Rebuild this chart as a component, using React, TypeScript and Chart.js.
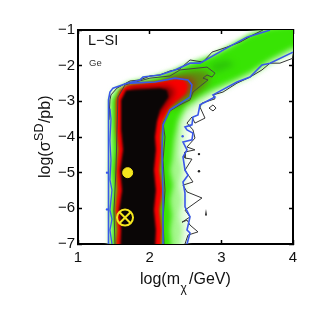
import React, { useEffect, useRef } from "react";
import { Chart, registerables } from "chart.js";

type P = [number, number];

const xTicks = [1, 2, 3, 4];
const yTicks = [-1, -2, -3, -4, -5, -6, -7];

const paleRegion: P[] = [[1.419,-7.2],[1.419,-2.96],[1.474,-2.68],[1.656,-2.49],[1.935,-2.35],[2.283,-2.15],[2.563,-1.87],[2.842,-1.7],[3.121,-1.39],[3.4,-1.11],[3.609,-0.94],[4.1,-0.86],[4.1,-1.66],[3.985,-1.69],[3.679,-2.0],[3.4,-2.38],[3.218,-2.52],[2.884,-2.88],[2.702,-3.17],[2.604,-3.47],[2.535,-3.86],[2.521,-4.36],[2.507,-4.93],[2.535,-5.49],[2.521,-6.05],[2.535,-6.61],[2.521,-7.2]];
const midRegion: P[] = [[1.446,-7.2],[1.446,-2.96],[1.53,-2.68],[1.725,-2.46],[2.004,-2.35],[2.311,-2.18],[2.563,-1.93],[2.87,-1.73],[3.148,-1.42],[3.4,-1.14],[3.679,-0.97],[4.1,-0.86],[4.1,-1.58],[3.985,-1.6],[3.679,-1.93],[3.4,-2.3],[3.19,-2.48],[2.87,-2.79],[2.674,-3.02],[2.507,-3.3],[2.437,-3.6],[2.423,-4.08],[2.409,-4.5],[2.451,-4.93],[2.409,-5.35],[2.451,-5.77],[2.409,-6.2],[2.451,-6.61],[2.409,-7.2]];
const greenRegion: P[] = [[1.46,-7.2],[1.488,-6.61],[1.46,-6.05],[1.488,-5.49],[1.46,-4.93],[1.488,-4.36],[1.474,-3.52],[1.474,-2.96],[1.558,-2.68],[1.725,-2.49],[2.004,-2.38],[2.311,-2.2],[2.563,-1.96],[2.87,-1.74],[3.148,-1.45],[3.4,-1.15],[3.679,-0.95],[4.1,-0.86],[4.1,-1.47],[3.985,-1.5],[3.679,-1.82],[3.4,-2.18],[3.19,-2.38],[2.87,-2.66],[2.674,-2.88],[2.493,-3.14],[2.395,-3.52],[2.339,-4.08],[2.311,-4.65],[2.283,-4.93],[2.325,-5.35],[2.283,-5.77],[2.311,-6.2],[2.283,-6.61],[2.311,-7.2]];
const oliveRegion: P[] = [[2.214,-2.32],[2.493,-2.18],[2.674,-2.12],[2.842,-2.18],[2.8,-2.54],[2.604,-2.85],[2.38,-3.16],[2.214,-3.1]];
const bandShadeRegion: P[] = [[2.842,-1.95],[3.079,-1.84],[3.19,-1.98],[2.912,-2.2]];
const brownRegion: P[] = [[2.3,-2.36],[2.59,-2.32],[2.66,-2.56],[2.52,-2.86],[2.3,-3.1]];
const redRegion: P[] = [[1.516,-7.2],[1.544,-6.61],[1.516,-6.05],[1.544,-5.49],[1.53,-4.93],[1.558,-4.36],[1.53,-3.8],[1.53,-2.96],[1.586,-2.68],[1.684,-2.54],[2.144,-2.43],[2.38,-2.36],[2.493,-2.4],[2.535,-2.56],[2.507,-2.78],[2.38,-3.0],[2.283,-3.2],[2.186,-3.58],[2.158,-4.0],[2.172,-4.36],[2.144,-4.93],[2.186,-5.49],[2.144,-6.05],[2.172,-6.61],[2.158,-7.2]];
const darkRedRegion: P[] = [[1.7,-2.62],[2.256,-2.58],[2.353,-2.72],[2.256,-3.05],[2.13,-3.4],[1.9,-3.4]];
const blackRegion: P[] = [[1.586,-7.2],[1.6,-6.61],[1.572,-6.05],[1.614,-5.49],[1.586,-4.93],[1.628,-4.36],[1.6,-3.8],[1.6,-2.96],[1.67,-2.69],[2.144,-2.63],[2.24,-2.68],[2.264,-2.88],[2.144,-3.24],[2.102,-3.58],[2.074,-4.0],[2.088,-4.36],[2.06,-4.93],[2.088,-5.49],[2.06,-6.05],[2.088,-6.61],[2.074,-7.2]];

const blueOuterLeft: P[] = [[1.419,-7],[1.432,-6.6],[1.419,-6.2],[1.432,-5.5],[1.419,-4.9],[1.432,-4.2],[1.419,-3.7],[1.432,-3.4],[1.419,-2.96],[1.446,-2.74],[1.488,-2.63],[1.684,-2.49],[1.865,-2.4],[1.907,-2.32],[2.144,-2.26],[2.353,-2.12],[2.563,-1.93],[2.702,-1.93],[3.079,-1.5],[3.358,-1.2],[3.637,-1.03],[3.679,-1]];
const blueInnerLeft: P[] = [[1.474,-7],[1.446,-6.61],[1.474,-6.3],[1.446,-6.05],[1.474,-5.49],[1.446,-5.2],[1.46,-4.65],[1.446,-4.1],[1.46,-3.5],[1.446,-3.2]];
const blueRed: P[] = [[2.186,-7],[2.186,-5.77],[2.172,-4.36],[2.186,-3.66],[2.283,-3.24],[2.563,-2.88],[2.59,-2.54],[2.535,-2.4],[2.353,-2.35],[2.074,-2.46],[1.725,-2.49]];
const blueRight: P[] = [[4,-1.62],[3.679,-1.93],[3.567,-1.98],[3.4,-2.32],[3.218,-2.46],[2.884,-2.82],[2.912,-2.88],[2.702,-3.1],[2.674,-3.38],[2.604,-3.44],[2.59,-3.66],[2.493,-3.72],[2.521,-3.8],[2.604,-3.89],[2.59,-4.08],[2.465,-4.14],[2.521,-4.36],[2.465,-4.56],[2.493,-4.93],[2.535,-5.07],[2.465,-5.26],[2.493,-5.57],[2.493,-5.96],[2.563,-6.24],[2.521,-6.61],[2.563,-6.69],[2.521,-7]];
const blueDots: P[] = [[1.405,-5.0],[1.405,-6.03],[2.46,-3.98],[2.56,-3.68]];

const blackUpper: P[] = [[1.432,-3.52],[1.446,-2.96],[1.46,-2.82],[1.544,-2.63],[1.725,-2.43],[1.865,-2.4],[2.004,-2.29],[2.144,-2.26],[2.283,-2.15],[2.423,-2.09],[2.563,-1.84],[2.744,-1.9],[2.87,-1.62],[3.079,-1.48],[3.26,-1.34],[3.441,-1.14],[3.581,-1]];
const blackLower: P[] = [[4,-1.79],[3.818,-1.93],[3.679,-1.93],[3.567,-2.12],[3.4,-2.32],[3.218,-2.49],[3.023,-2.74],[2.884,-2.82],[2.912,-2.93],[2.73,-3.05],[2.702,-3.16],[2.772,-3.47],[2.632,-3.61],[2.59,-3.44],[2.521,-3.61],[2.604,-3.8],[2.632,-4.03],[2.521,-4.28],[2.632,-4.36],[2.493,-4.42],[2.493,-4.59],[2.59,-4.62],[2.493,-4.93],[2.604,-5.26],[2.465,-5.35],[2.521,-5.54],[2.73,-5.71],[2.493,-6.05],[2.563,-6.24],[2.451,-6.39],[2.521,-6.33],[2.563,-6.47],[2.674,-6.66],[2.535,-6.75],[2.493,-7]];
const blackKnee: P[] = [[1.516,-7],[1.502,-6.05],[1.53,-4.93],[1.544,-3.8],[1.558,-2.88],[1.656,-2.54],[2.004,-2.35],[2.283,-2.29],[2.423,-2.12],[2.66,-2.07],[2.8,-2.04],[2.912,-2.21],[2.87,-2.32],[2.8,-2.26],[2.744,-2.35],[2.814,-2.4],[2.604,-2.74],[2.563,-2.96],[2.423,-3.1],[2.283,-3.27],[2.186,-3.61],[2.214,-4.0],[2.186,-4.65],[2.214,-5.49],[2.186,-6.33],[2.2,-7]];
const blackDiamond: P[] = [[2.884,-3.1],[2.926,-3.19],[2.884,-3.27],[2.828,-3.19],[2.884,-3.1]];
const blackSpeck: P[] = [[2.786,-6.02],[2.8,-6.2],[2.772,-6.2]];
const blackDots: P[] = [[2.688,-4.48],[2.688,-4.96]];

const wimpPoint: P[] = [[1.693, -5.0]];
const bestFit: P[] = [[1.656, -6.26]];

const toXY = (a: P[]) => a.map(([x, y]) => ({ x, y }));

const blurPlugin = {
  id: "softEdges",
  beforeDatasetDraw(chart: any, args: any) {
    const b = chart.data.datasets[args.index].softness;
    chart.ctx.save();
    if (b) chart.ctx.filter = `blur(${b}px)`;
  },
  afterDatasetDraw(chart: any) {
    chart.ctx.restore();
  },
};

const textPlugin = {
  id: "labels",
  afterDraw(chart: any) {
    const ctx = chart.ctx;
    const { left, bottom, top } = chart.chartArea;
    ctx.save();
    ctx.fillStyle = "#111";
    ctx.textBaseline = "alphabetic";
    const font = (s: number) => `${s}px "Liberation Sans"`;
    ctx.font = font(14.5);
    ctx.fillText("L\u2212SI", left + 10, top + 15);
    ctx.font = font(9.5);
    ctx.fillStyle = "#333";
    ctx.fillText("Ge", left + 11, top + 36);
    ctx.fillStyle = "#111";
    ctx.font = font(16);
    ctx.fillText("log(m", 140, 283.5);
    ctx.fillText("/GeV)", 189, 283.5);
    ctx.font = font(12);
    ctx.fillText("\u03c7", 180.5, 292);
    ctx.save();
    ctx.translate(50, bottom - 66);
    ctx.rotate(-Math.PI / 2);
    ctx.font = font(16);
    ctx.fillText("log(\u03c3", 0, 0);
    const w = ctx.measureText("log(\u03c3").width;
    ctx.font = font(12.5);
    ctx.fillText("SD", w + 0.5, -7.5);
    const w2 = ctx.measureText("SD").width;
    ctx.font = font(16);
    ctx.fillText("/pb)", w + w2 + 1, 0);
    ctx.restore();
    ctx.restore();
  },
};

Chart.register(blurPlugin, ...registerables);

const fillSet = (data: P[], color: string, softness: number, order: number) => ({
  data: toXY(data),
  showLine: true,
  fill: "shape",
  backgroundColor: color,
  borderWidth: 0,
  borderColor: "transparent",
  pointRadius: 0,
  softness,
  order,
});
const lineSet = (data: P[], color: string, width: number, order: number) => ({
  data: toXY(data),
  showLine: true,
  fill: false,
  borderColor: color,
  borderWidth: width,
  pointRadius: 0,
  order,
});
const dotSet = (data: P[], color: string, r: number, order: number) => ({
  data: toXY(data),
  showLine: false,
  backgroundColor: color,
  borderColor: color,
  pointRadius: r,
  pointBorderWidth: 0,
  order,
});

const tickGrid = {
  drawOnChartArea: false,
  drawTicks: true,
  tickLength: -4,
  tickWidth: 1.5,
  tickColor: "#000",
};
const border = { display: true, color: "#000", width: 2 };
const axisFont = { family: "Liberation Sans", size: 15 };
const minus = (v: any) => String(v).replace("-", "\u2212");

export default function App() {
  const ref = useRef<HTMLCanvasElement>(null);
  useEffect(() => {
    const chart = new Chart(ref.current!, {
      type: "scatter",
      data: {
        datasets: [
          fillSet(paleRegion, "#e2fbdc", 2.5, 20),
          fillSet(midRegion, "#a4f78c", 2.5, 19),
          fillSet(greenRegion, "#38e404", 2.5, 18),
          fillSet(bandShadeRegion, "#2cc408", 3, 17),
          fillSet(oliveRegion, "#5f8a10", 3.5, 16.5),
          fillSet(brownRegion, "#8e4a10", 3, 16),
          fillSet(redRegion, "#f80000", 1.5, 15),
          fillSet(darkRedRegion, "#7a0202", 3, 14.5),
          fillSet(blackRegion, "#0a0606", 1.2, 14),
          lineSet(blackUpper, "#333", 1, 10),
          lineSet(blackLower, "#333", 1, 9),
          lineSet(blackKnee, "#444", 1, 8),
          lineSet(blackDiamond, "#333", 1, 7),
          fillSet(blackSpeck, "#222", 0, 7),
          dotSet(blackDots, "#222", 1.2, 7),
          lineSet(blueOuterLeft, "#3a58e8", 1.6, 6),
          lineSet(blueInnerLeft, "#3a58e8", 1.3, 5),
          lineSet(blueRed, "#3a58e8", 1.6, 5),
          lineSet(blueRight, "#3a58e8", 1.6, 5),
          dotSet(blueDots, "#3a58e8", 1.2, 5),
          {
            data: toXY(wimpPoint),
            showLine: false,
            pointStyle: "circle",
            pointRadius: 5,
            backgroundColor: "#f5e61e",
            borderColor: "#f5e61e",
            order: 1,
          },
          {
            data: toXY(bestFit),
            showLine: false,
            pointStyle: "circle",
            pointRadius: 8,
            backgroundColor: "transparent",
            borderColor: "#f5e61e",
            pointBorderWidth: 2,
            order: 1,
          },
          {
            data: toXY(bestFit),
            showLine: false,
            pointStyle: "crossRot",
            pointRadius: 8,
            backgroundColor: "transparent",
            borderColor: "#f5e61e",
            pointBorderWidth: 2,
            order: 1,
          },
        ] as any,
      },
      options: {
        responsive: false,
        animation: false,
        layout: { padding: 0 },
        plugins: { legend: { display: false }, tooltip: { enabled: false }, title: { display: false } },
        scales: {
          x: {
            type: "linear",
            min: xTicks[0],
            max: xTicks[xTicks.length - 1],
            position: "bottom",
            afterFit: (s: any) => { s.height = 78; },
            afterBuildTicks: (s: any) => { s.ticks = xTicks.map((value) => ({ value })); },
            grid: tickGrid,
            border,
            ticks: { padding: 9, color: "#111", font: axisFont, maxRotation: 0 },
          },
          x2: {
            type: "linear",
            min: xTicks[0],
            max: xTicks[xTicks.length - 1],
            position: "top",
            afterFit: (s: any) => { s.height = 30; },
            afterBuildTicks: (s: any) => { s.ticks = xTicks.map((value) => ({ value })); },
            grid: tickGrid,
            border,
            ticks: { display: false },
          },
          y: {
            type: "linear",
            min: yTicks[yTicks.length - 1],
            max: yTicks[0],
            position: "left",
            afterFit: (s: any) => { s.width = 78; },
            afterBuildTicks: (s: any) => { s.ticks = yTicks.map((value) => ({ value })); },
            grid: tickGrid,
            border,
            ticks: { padding: 7, color: "#111", font: axisFont, callback: minus },
          },
          y2: {
            type: "linear",
            min: yTicks[yTicks.length - 1],
            max: yTicks[0],
            position: "right",
            afterFit: (s: any) => { s.width = 29; },
            afterBuildTicks: (s: any) => { s.ticks = yTicks.map((value) => ({ value })); },
            grid: tickGrid,
            border,
            ticks: { display: false },
          },
        },
      } as any,
      plugins: [textPlugin],
    });
    return () => chart.destroy();
  }, []);
  return (
    <div style={{ position: "fixed", left: 0, top: 0, width: 322, height: 322, background: "#fff" }}>
      <canvas ref={ref} width={322} height={322} style={{ display: "block" }} />
    </div>
  );
}
